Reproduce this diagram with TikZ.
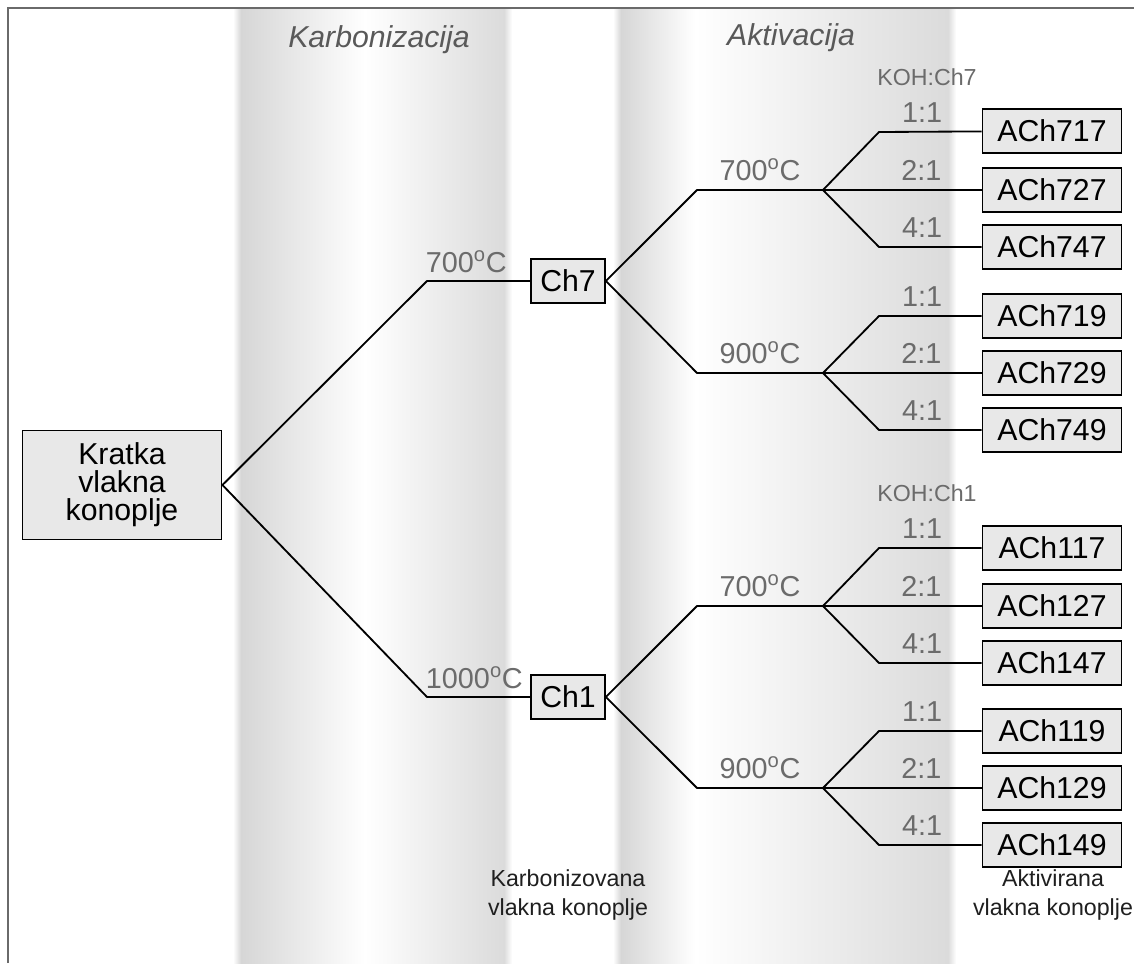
\documentclass[tikz,border=0pt]{standalone}
\usepackage{fontspec}
\setmainfont{Liberation Sans}
\usepackage{tikz}
\usetikzlibrary{positioning,calc}
\usepackage{xcolor}
\definecolor{boxgray}{HTML}{E8E8E8}
\definecolor{lblgray}{HTML}{6B6B6B}
\definecolor{framegray}{HTML}{6A6A6A}
\definecolor{bandgray}{HTML}{D6D6D6}
\definecolor{bandgrayr}{HTML}{DBDBDB}
\newcommand{\degC}{\textsuperscript{o}C}

\begin{document}
\begin{tikzpicture}[x=0.025cm, y=-0.025cm,
    sample/.style={rectangle, draw=black, fill=boxgray, line width=1.3pt, minimum width=3.475cm,
                 minimum height=1.1cm, inner sep=0pt, font=\fontsize{21.5}{22}\selectfont},
    carbbox/.style={sample, minimum width=1.85cm},
    rawbox/.style={sample, minimum width=4.975cm, minimum height=2.725cm, align=center,
                 font=\fontsize{21.5}{20}\selectfont},
    branch/.style={line width=1.3pt, line join=round},
    templbl/.style={text=lblgray, inner sep=0pt, font=\fontsize{20.5}{22}\selectfont},
    kohlbl/.style={text=lblgray, inner sep=0pt, font=\fontsize{16.5}{18}\selectfont},
    stagelbl/.style={text=black!65, inner sep=0pt, font=\fontsize{21.5}{24}\selectfont\itshape},
    prodlbl/.style={text=black!88, inner sep=0pt, align=center, font=\fontsize{16.5}{20}\selectfont}
]
    \useasboundingbox (0,0) rectangle (1134,963);

    % shaded process bands
    \shade[left color=white, right color=bandgray] (233,9) rectangle (241,963);
    \shade[left color=bandgray, right color=white] (241,9) rectangle (365,963);
    \shade[left color=white, right color=bandgrayr] (365,9) rectangle (504,963);
    \shade[left color=bandgrayr, right color=white] (504,9) rectangle (512,963);
    \shade[left color=white, right color=bandgray] (613,9) rectangle (621,963);
    \shade[left color=bandgray, right color=white] (621,9) rectangle (695,963);
    \shade[left color=white, right color=bandgrayr] (695,9) rectangle (948,963);
    \shade[left color=bandgrayr, right color=white] (948,9) rectangle (956,963);

    \draw[framegray, line width=2.1pt] (8,963) -- (8,8) -- (1134,8);

    \node[stagelbl] (karb) at (379,40) {Karbonizacija};
    \node[stagelbl] (akt) at (791,38) {Aktivacija};
    \node[prodlbl] (karbprod) at (568,895) {Karbonizovana\\vlakna konoplje};
    \node[prodlbl] (aktprod) at (1053,895) {Aktivirana\\vlakna konoplje};
    \node[kohlbl] (koh7) at (927,77) {KOH:Ch7};
    \node[kohlbl] (koh1) at (927,493) {KOH:Ch1};

    % raw fibre and carbonized samples
    \node[rawbox] (kr) at (122,485) {Kratka\\vlakna\\konoplje};
    \node[carbbox] (ch7) at (568,281) {Ch7};
    \node[carbbox] (ch1) at (568,697) {Ch1};
    \coordinate (c7) at (427,281);
    \coordinate (c1) at (427,697);
    \draw[branch] (kr.east) -- (c7) -- (ch7);
    \draw[branch] (kr.east) -- (c1) -- (ch1);
    \node[templbl, above right=6pt and -1pt of c7] (lt7) {700\degC};
    \node[templbl, above right=6pt and -1pt of c1] (lt1) {1000\degC};

    % activated samples
    \node[sample] (a717) at (1052,131) {ACh717};
    \node[sample] (a727) at (1052,190) {ACh727};
    \node[sample] (a747) at (1052,247) {ACh747};
    \node[sample] (a719) at (1052,316) {ACh719};
    \node[sample] (a729) at (1052,373) {ACh729};
    \node[sample] (a749) at (1052,430) {ACh749};
    \node[sample] (a117) at (1052,548) {ACh117};
    \node[sample] (a127) at (1052,606) {ACh127};
    \node[sample] (a147) at (1052,663) {ACh147};
    \node[sample] (a119) at (1052,731) {ACh119};
    \node[sample] (a129) at (1052,788) {ACh129};
    \node[sample] (a149) at (1052,845) {ACh149};

    \coordinate (f77) at (823,190);
    \coordinate (f79) at (823,373);
    \coordinate (f17) at (823,606);
    \coordinate (f19) at (823,788);

    \draw[branch] (ch7.east) -- (697,190) -- node[templbl, midway, above=6pt] (l77) {700\degC} (f77);
    \draw[branch] (ch7.east) -- (697,373) -- node[templbl, midway, above=6pt] (l79) {900\degC} (f79);
    \draw[branch] (ch1.east) -- (697,606) -- node[templbl, midway, above=6pt] (l17) {700\degC} (f17);
    \draw[branch] (ch1.east) -- (697,788) -- node[templbl, midway, above=6pt] (l19) {900\degC} (f19);

    \draw[branch] (f77) -- ++(56,-58) -- node[templbl, pos=0.42, above=6pt] {1:1} (a717);
    \draw[branch] (f77) -- node[templbl, pos=0.62, above=6pt] {2:1} (a727);
    \draw[branch] (f77) -- ++(56,57) -- node[templbl, pos=0.42, above=6pt] {4:1} (a747);
    \draw[branch] (f79) -- ++(56,-57) -- node[templbl, pos=0.42, above=6pt] {1:1} (a719);
    \draw[branch] (f79) -- node[templbl, pos=0.62, above=6pt] {2:1} (a729);
    \draw[branch] (f79) -- ++(56,57) -- node[templbl, pos=0.42, above=6pt] {4:1} (a749);
    \draw[branch] (f17) -- ++(56,-58) -- node[templbl, pos=0.42, above=6pt] {1:1} (a117);
    \draw[branch] (f17) -- node[templbl, pos=0.62, above=6pt] {2:1} (a127);
    \draw[branch] (f17) -- ++(56,57) -- node[templbl, pos=0.42, above=6pt] {4:1} (a147);
    \draw[branch] (f19) -- ++(56,-57) -- node[templbl, pos=0.42, above=6pt] {1:1} (a119);
    \draw[branch] (f19) -- node[templbl, pos=0.62, above=6pt] {2:1} (a129);
    \draw[branch] (f19) -- ++(56,57) -- node[templbl, pos=0.42, above=6pt] {4:1} (a149);
\end{tikzpicture}
\end{document}
